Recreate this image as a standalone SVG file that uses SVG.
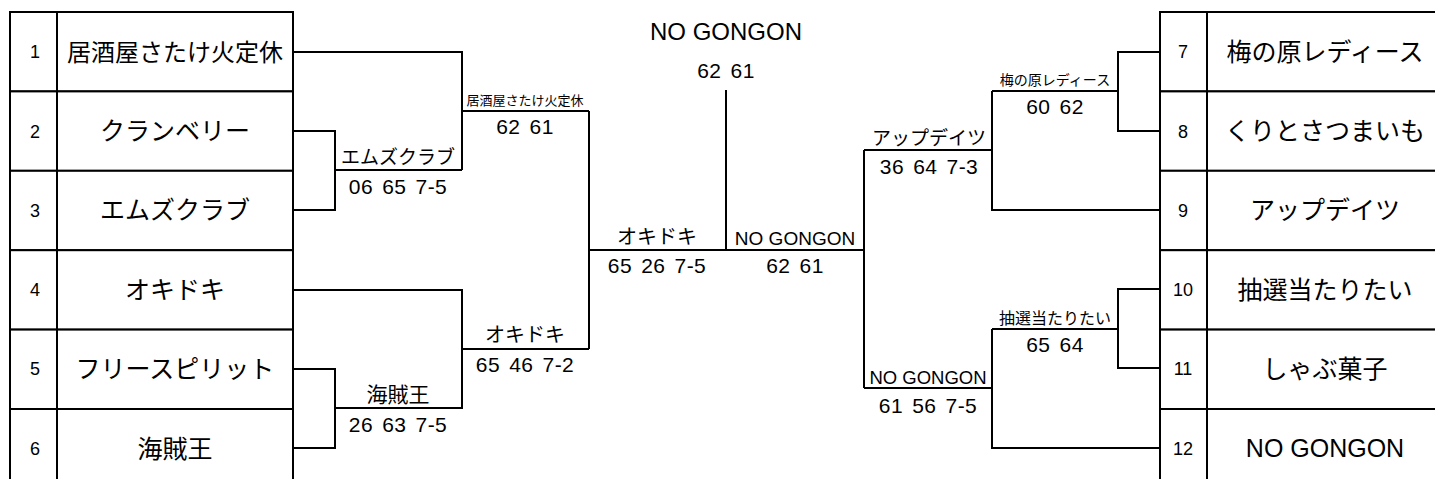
<svg xmlns="http://www.w3.org/2000/svg" width="1435" height="479" viewBox="0 0 1435 479">
<style>
.cell{fill:#fff;stroke:#000;stroke-width:2}
.num{font-family:"Liberation Sans","Noto Sans CJK JP",sans-serif;font-size:18px;text-anchor:middle;fill:#000}
.name{font-family:"Liberation Sans","Noto Sans CJK JP",sans-serif;font-size:25px;text-anchor:middle;fill:#000}
.lbl{font-family:"Liberation Sans","Noto Sans CJK JP",sans-serif;font-size:20px;text-anchor:middle;fill:#000}
.sc{font-family:"Liberation Sans","Noto Sans CJK JP",sans-serif;font-size:21px;text-anchor:middle;fill:#000;letter-spacing:0.4px;word-spacing:3px}
.ln{fill:none;stroke:#000;stroke-width:2}
</style>
<rect width="1435" height="479" fill="#fff"/>
<g id="connectors" class="ln">
<path d="M293,131 H335 V210 H293"/>
<path d="M335,170 H462"/>
<path d="M293,52 H462 V170"/>
<path d="M462,111 H589"/>
<path d="M293,290 H462 V408 H335"/>
<path d="M293,369 H335 V448 H293"/>
<path d="M462,349 H589"/>
<path d="M589,111 V349"/>
<path d="M589,250 H864"/>
<path d="M726,90 V250"/>
<path d="M1160,52 H1118 V131 H1160"/>
<path d="M1118,91 H992"/>
<path d="M1160,210 H992 V91"/>
<path d="M992,150 H864"/>
<path d="M1160,289 H1118 V368 H1160"/>
<path d="M1118,329 H992"/>
<path d="M1160,448 H992 V329"/>
<path d="M992,388 H864"/>
<path d="M864,150 V388"/>
</g>
<g id="team-1"><rect class="cell" x="10" y="12" width="47" height="79.4"/><rect class="cell" x="57" y="12" width="236" height="79.4"/><text class="num" x="35" y="58">1</text><text class="name" x="175" y="61" style="font-size:24px">居酒屋さたけ火定休</text></g>
<g id="team-2"><rect class="cell" x="10" y="91.4" width="47" height="79.4"/><rect class="cell" x="57" y="91.4" width="236" height="79.4"/><text class="num" x="35" y="138">2</text><text class="name" x="175" y="140">クランベリー</text></g>
<g id="team-3"><rect class="cell" x="10" y="170.8" width="47" height="79.4"/><rect class="cell" x="57" y="170.8" width="236" height="79.4"/><text class="num" x="35" y="217">3</text><text class="name" x="175" y="219">エムズクラブ</text></g>
<g id="team-4"><rect class="cell" x="10" y="250.2" width="47" height="79.4"/><rect class="cell" x="57" y="250.2" width="236" height="79.4"/><text class="num" x="35" y="296">4</text><text class="name" x="175" y="299">オキドキ</text></g>
<g id="team-5"><rect class="cell" x="10" y="329.6" width="47" height="79.4"/><rect class="cell" x="57" y="329.6" width="236" height="79.4"/><text class="num" x="35" y="375">5</text><text class="name" x="175" y="378">フリースピリット</text></g>
<g id="team-6"><rect class="cell" x="10" y="409" width="47" height="79.4"/><rect class="cell" x="57" y="409" width="236" height="79.4"/><text class="num" x="35" y="455">6</text><text class="name" x="175" y="458">海賊王</text></g>
<g id="team-7"><rect class="cell" x="1160" y="12" width="47" height="79.4"/><rect class="cell" x="1207" y="12" width="236" height="79.4"/><text class="num" x="1183" y="58">7</text><text class="name" x="1325" y="61">梅の原レディース</text></g>
<g id="team-8"><rect class="cell" x="1160" y="91.4" width="47" height="79.4"/><rect class="cell" x="1207" y="91.4" width="236" height="79.4"/><text class="num" x="1183" y="138">8</text><text class="name" x="1325" y="140">くりとさつまいも</text></g>
<g id="team-9"><rect class="cell" x="1160" y="170.8" width="47" height="79.4"/><rect class="cell" x="1207" y="170.8" width="236" height="79.4"/><text class="num" x="1183" y="217">9</text><text class="name" x="1325" y="219">アップデイツ</text></g>
<g id="team-10"><rect class="cell" x="1160" y="250.2" width="47" height="79.4"/><rect class="cell" x="1207" y="250.2" width="236" height="79.4"/><text class="num" x="1183" y="296">10</text><text class="name" x="1325" y="299">抽選当たりたい</text></g>
<g id="team-11"><rect class="cell" x="1160" y="329.6" width="47" height="79.4"/><rect class="cell" x="1207" y="329.6" width="236" height="79.4"/><text class="num" x="1183" y="375">11</text><text class="name" x="1325" y="378">しゃぶ菓子</text></g>
<g id="team-12"><rect class="cell" x="1160" y="409" width="47" height="79.4"/><rect class="cell" x="1207" y="409" width="236" height="79.4"/><text class="num" x="1183" y="455">12</text><text class="name" x="1325" y="457">NO GONGON</text></g>
<g id="match-2-3"><text class="lbl" x="398" y="164" style="font-size:19px">エムズクラブ</text><text class="sc" x="398" y="194">06 65 7-5</text></g>
<g id="match-1"><text class="lbl" x="525" y="105" style="font-size:13px">居酒屋さたけ火定休</text><text class="sc" x="525" y="134">62 61</text></g>
<g id="match-5-6"><text class="lbl" x="398" y="402" style="font-size:21px">海賊王</text><text class="sc" x="398" y="432">26 63 7-5</text></g>
<g id="match-4"><text class="lbl" x="525" y="342">オキドキ</text><text class="sc" x="525" y="372">65 46 7-2</text></g>
<g id="semi-left"><text class="lbl" x="657" y="244">オキドキ</text><text class="sc" x="657" y="273">65 26 7-5</text></g>
<g id="semi-right"><text class="lbl" x="795" y="245" style="font-size:19px">NO GONGON</text><text class="sc" x="795" y="273">62 61</text></g>
<g id="final"><text class="lbl" x="726" y="40" style="font-size:24px">NO GONGON</text><text class="sc" x="726" y="78">62 61</text></g>
<g id="match-7-8"><text class="lbl" x="1055" y="85" style="font-size:14px">梅の原レディース</text><text class="sc" x="1055" y="114">60 62</text></g>
<g id="match-9"><text class="lbl" x="929" y="145" style="font-size:19px">アップデイツ</text><text class="sc" x="929" y="174">36 64 7-3</text></g>
<g id="match-10-11"><text class="lbl" x="1055" y="324" style="font-size:16px">抽選当たりたい</text><text class="sc" x="1055" y="352">65 64</text></g>
<g id="match-12"><text class="lbl" x="928" y="384" style="font-size:18.5px">NO GONGON</text><text class="sc" x="928" y="413">61 56 7-5</text></g>
</svg>
